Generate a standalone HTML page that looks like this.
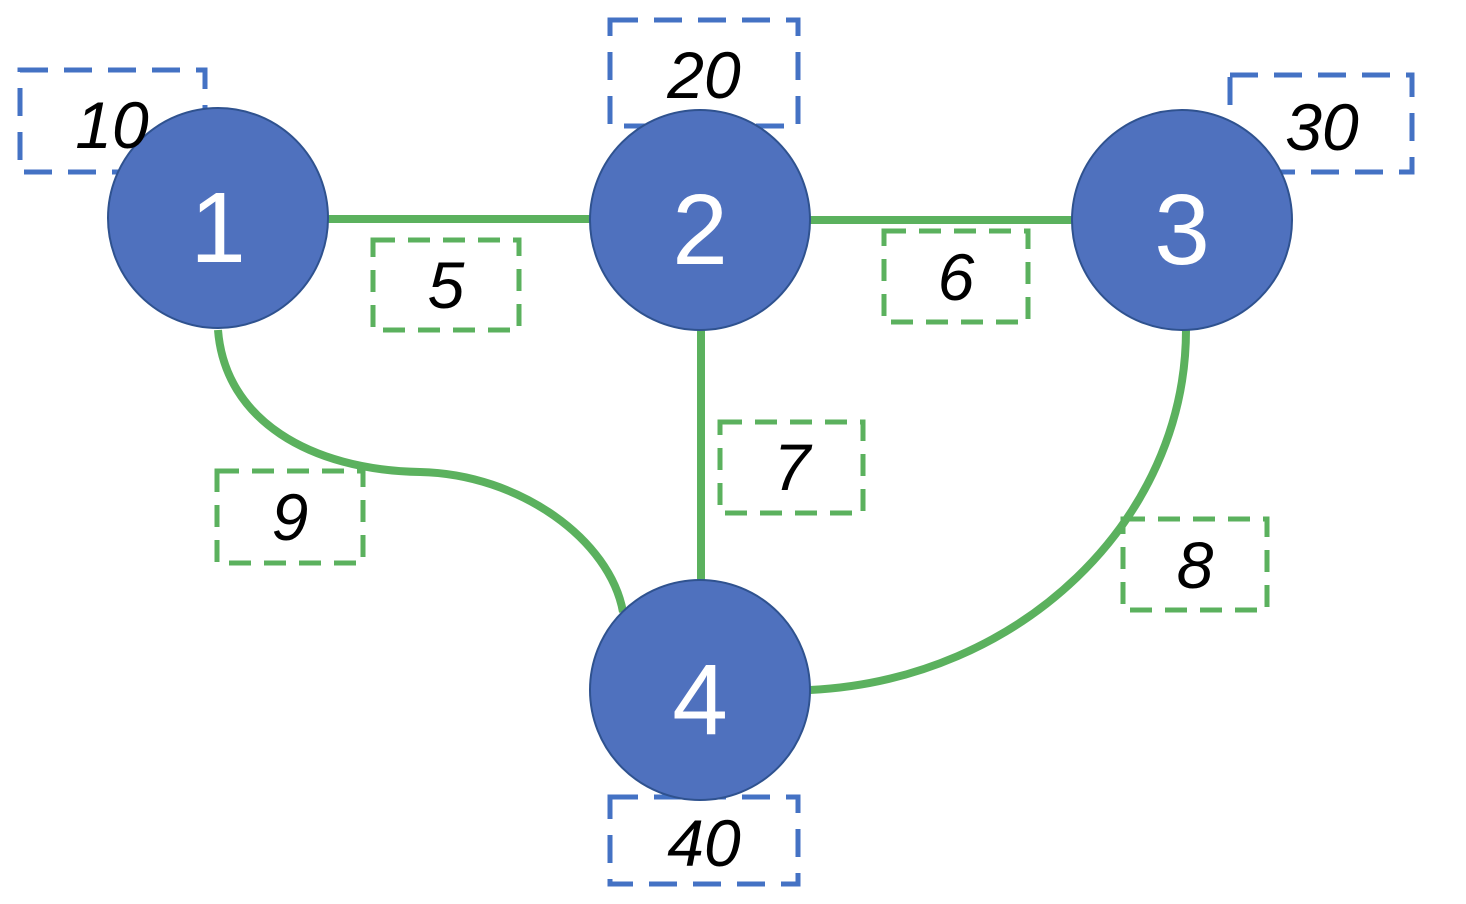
<!DOCTYPE html>
<html><head><meta charset="utf-8"><style>
html,body{margin:0;padding:0;background:#fff;}
svg{display:block;}
.lbl{font-family:"Liberation Sans",sans-serif;font-style:italic;font-size:66px;fill:#000;text-anchor:middle;}
.num{font-family:"Liberation Sans",sans-serif;font-size:100px;fill:#fff;text-anchor:middle;}
</style></head><body>
<svg width="1466" height="904" viewBox="0 0 1466 904" xmlns="http://www.w3.org/2000/svg">
<g fill="none" stroke="#4472C4" stroke-width="5" stroke-dasharray="28 16">
<rect x="20" y="70" width="185" height="102"/>
<rect x="610" y="20" width="188" height="106"/>
<rect x="1230" y="75" width="182" height="97"/>
<rect x="610" y="797" width="188" height="87"/>
</g>
<g fill="none" stroke="#5BB15E" stroke-width="5" stroke-dasharray="22 13">
<rect x="373" y="240" width="146" height="90"/>
<rect x="884" y="231" width="144" height="91"/>
<rect x="720" y="422" width="143" height="91"/>
<rect x="1123" y="519" width="144" height="91"/>
<rect x="217" y="471" width="146" height="92"/>
</g>
<g fill="none" stroke="#5BB15E" stroke-width="8">
<line x1="320" y1="219" x2="600" y2="219"/>
<line x1="800" y1="220" x2="1080" y2="220"/>
<line x1="701" y1="320" x2="701" y2="590"/>
<path d="M218,330 C225,420 310,470 420,472 C520,474 610,540 623,612"/>
<path d="M1186,330 C1186,520 1020,680 810,690"/>
</g>
<g fill="#4F71BE" stroke="#2F528F" stroke-width="2">
<circle cx="218" cy="218" r="110"/>
<circle cx="700" cy="220" r="110"/>
<circle cx="1182" cy="220" r="110"/>
<circle cx="700" cy="690" r="110"/>
</g>
<text class="lbl" x="112" y="148">10</text>
<text class="lbl" x="704" y="98">20</text>
<text class="lbl" x="1322" y="150">30</text>
<text class="lbl" x="704" y="866">40</text>
<text class="lbl" x="446" y="308">5</text>
<text class="lbl" x="956" y="300">6</text>
<text class="lbl" x="792" y="490">7</text>
<text class="lbl" x="1195" y="588">8</text>
<text class="lbl" x="290" y="540">9</text>
<text class="num" x="218" y="262">1</text>
<text class="num" x="700" y="264">2</text>
<text class="num" x="1182" y="264">3</text>
<text class="num" x="700" y="734">4</text>
</svg>
</body></html>
